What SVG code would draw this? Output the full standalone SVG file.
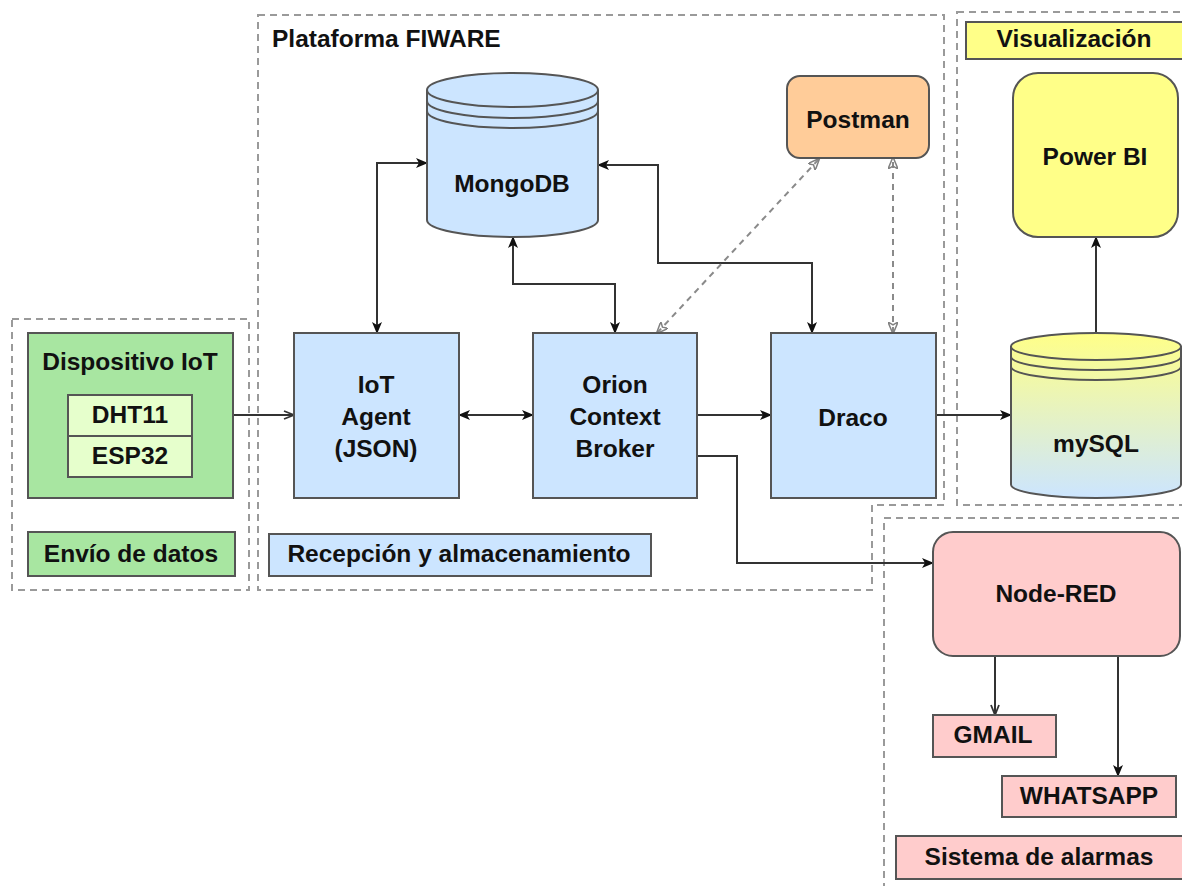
<svg xmlns="http://www.w3.org/2000/svg" width="1182" height="886" viewBox="0 0 1182 886">
<style>
text{font-family:"Liberation Sans",Arial,Helvetica,sans-serif;font-weight:bold;fill:#111;font-size:24.5px;text-anchor:middle}
.lbl{text-anchor:start}
.cont{fill:none;stroke:#9a9a9a;stroke-width:2;stroke-dasharray:7 5}
.box{stroke:#555;stroke-width:2}
.blue{fill:#cce5ff}
.green{fill:#a8e6a1}
.lime{fill:#e6ffcc}
.orange{fill:#ffcc99}
.yellow{fill:#ffff88}
.pink{fill:#ffcccc}
.ln{fill:none;stroke:#333;stroke-width:2}
.dash{fill:none;stroke:#8a8a8a;stroke-width:2;stroke-dasharray:6 5}
</style>
<defs>
<marker id="arr" viewBox="0 0 12 10" refX="11" refY="5" markerWidth="12" markerHeight="10" markerUnits="userSpaceOnUse" orient="auto-start-reverse">
<path d="M0,0 L12,5 L0,10 L3,5 Z" fill="#111"/>
</marker>
<marker id="open" viewBox="0 0 12 10" refX="11" refY="5" markerWidth="12" markerHeight="10" markerUnits="userSpaceOnUse" orient="auto-start-reverse">
<path d="M1,1 L11,5 L1,9" fill="none" stroke="#333" stroke-width="1.8"/>
</marker>
<marker id="gray" viewBox="0 0 12 10" refX="11" refY="5" markerWidth="12" markerHeight="10" markerUnits="userSpaceOnUse" orient="auto-start-reverse">
<path d="M0,0 L12,5 L0,10 L3,5 Z" fill="none" stroke="#808080" stroke-width="1.5"/>
</marker>
<linearGradient id="sqlg" x1="0" y1="0" x2="0" y2="1">
<stop offset="0" stop-color="#ffff88"/>
<stop offset="1" stop-color="#cce5ff"/>
</linearGradient>
</defs>

<g id="containers">
<rect id="c-envio" class="cont" x="12" y="319" width="237" height="271"/>
<path id="c-fiware" class="cont" d="M258,15 L944,15 L944,505 L872,505 L872,590 L258,590 Z"/>
<rect id="c-vis" class="cont" x="957" y="12" width="240" height="493"/>
<rect id="c-alarm" class="cont" x="884" y="518" width="310" height="380"/>
<text class="lbl" x="272" y="47">Plataforma FIWARE</text>
</g>

<g id="connectors">
<path class="ln" d="M233,415 L294,415" marker-end="url(#open)"/>
<path class="ln" d="M459,415 L533,415" marker-start="url(#arr)" marker-end="url(#arr)"/>
<path class="ln" d="M697,415 L771,415" marker-end="url(#arr)"/>
<path class="ln" d="M936,415 L1011,415" marker-end="url(#arr)"/>
<path class="ln" d="M1096,333 L1096,237" marker-end="url(#arr)"/>
<path class="ln" d="M697,456 L737,456 L737,563 L933,563" marker-end="url(#arr)"/>
<path class="ln" d="M377,333 L377,163 L427,163" marker-start="url(#arr)" marker-end="url(#arr)"/>
<path class="ln" d="M615,333 L615,284 L513,284 L513,237" marker-start="url(#arr)" marker-end="url(#arr)"/>
<path class="ln" d="M812,333 L812,263 L658,263 L658,165 L598,165" marker-start="url(#arr)" marker-end="url(#arr)"/>
<path class="dash" d="M657,333 L819,159" marker-start="url(#gray)" marker-end="url(#gray)"/>
<path class="dash" d="M893,333 L893,158" marker-start="url(#gray)" marker-end="url(#gray)"/>
<path class="ln" d="M995,656 L995,715" marker-end="url(#open)"/>
<path class="ln" d="M1118,656 L1118,776" marker-end="url(#arr)"/>
</g>

<g id="dispositivo">
<rect class="box green" x="28" y="333" width="205" height="165"/>
<text x="130" y="370">Dispositivo IoT</text>
<rect class="box lime" x="68" y="395" width="124" height="41"/>
<rect class="box lime" x="68" y="436" width="124" height="41"/>
<text x="130" y="423">DHT11</text>
<text x="130" y="464">ESP32</text>
</g>
<g id="envio">
<rect class="box green" x="28" y="532" width="207" height="44"/>
<text x="131" y="562">Envío de datos</text>
</g>
<g id="recepcion">
<rect class="box blue" x="269" y="534" width="382" height="42"/>
<text x="459" y="562">Recepción y almacenamiento</text>
</g>
<g id="iotagent">
<rect class="box blue" x="294" y="333" width="165" height="165"/>
<text x="376" y="393">IoT</text>
<text x="376" y="425">Agent</text>
<text x="376" y="457">(JSON)</text>
</g>
<g id="orion">
<rect class="box blue" x="533" y="333" width="164" height="165"/>
<text x="615" y="393">Orion</text>
<text x="615" y="425">Context</text>
<text x="615" y="457">Broker</text>
</g>
<g id="draco">
<rect class="box blue" x="771" y="333" width="165" height="165"/>
<text x="853" y="426">Draco</text>
</g>
<g id="mongodb">
<path class="box blue" d="M427,90 A85.5,17 0 0 1 598,90 L598,220 A85.5,17 0 0 1 427,220 Z"/>
<path class="box" fill="none" d="M427,90 A85.5,17 0 0 0 598,90 M427,101 A85.5,17 0 0 0 598,101 M427,111 A85.5,17 0 0 0 598,111"/>
<text x="512" y="192">MongoDB</text>
</g>
<g id="postman">
<rect class="box orange" x="787" y="76" width="142" height="82" rx="13"/>
<text x="858" y="128">Postman</text>
</g>
<g id="visualizacion">
<rect class="box yellow" x="966" y="22" width="230" height="37"/>
<text x="1074" y="47">Visualización</text>
</g>
<g id="powerbi">
<rect class="box yellow" x="1013" y="73" width="165" height="164" rx="25"/>
<text x="1095" y="165">Power BI</text>
</g>
<g id="mysql">
<path class="box" fill="url(#sqlg)" d="M1011,346.5 A85,13.5 0 0 1 1181,346.5 L1181,484.5 A85,13.5 0 0 1 1011,484.5 Z"/>
<path class="box" fill="none" d="M1011,346.5 A85,13.5 0 0 0 1181,346.5 M1011,356.5 A85,13.5 0 0 0 1181,356.5 M1011,366.5 A85,13.5 0 0 0 1181,366.5"/>
<text x="1096" y="452">mySQL</text>
</g>
<g id="nodered">
<rect class="box pink" x="933" y="532" width="247" height="124" rx="20"/>
<text x="1056" y="602">Node-RED</text>
</g>
<g id="gmail">
<rect class="box pink" x="933" y="715" width="123" height="42"/>
<text x="993" y="743">GMAIL</text>
</g>
<g id="whatsapp">
<rect class="box pink" x="1002" y="776" width="174" height="41"/>
<text x="1089" y="804">WHATSAPP</text>
</g>
<g id="alarmas">
<rect class="box pink" x="896" y="836" width="300" height="43"/>
<text x="1039" y="865">Sistema de alarmas</text>
</g>
</svg>
